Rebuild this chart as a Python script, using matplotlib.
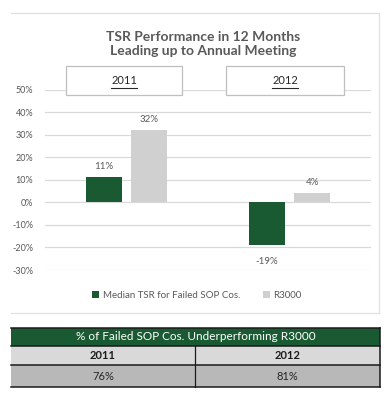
import matplotlib
matplotlib.use("Agg")
import matplotlib.pyplot as plt
from matplotlib.patches import Rectangle
from matplotlib.lines import Line2D
import numpy as np

plt.rcParams['font.family'] = ['Lato', 'DejaVu Sans']

# ---- data ----
years = ['2011', '2012']
series_names = ['Median TSR for Failed SOP Cos.', 'R3000']
median_tsr = [11, -19]
r3000 = [32, 4]
yticks = [-30, -20, -10, 0, 10, 20, 30, 40, 50]
table_title = '% of Failed SOP Cos. Underperforming R3000'
underperf = [76, 81]

GREEN = '#1a5a33'
GRAY_BAR = '#d0d0d0'
TXT = '#595959'

W, H = 389, 401
fig = plt.figure(figsize=(W / 100, H / 100), dpi=100)

def fx(px):
    return px / W

def fy(py):
    return 1 - py / H

# main axes: x 45..371 px, y 89.5 (50%) .. 270 (-30%)
ax = fig.add_axes([fx(45), fy(270), fx(371) - fx(45), fy(89.5) - fy(270)])
ax.set_xlim(-0.5, 1.5)
ax.set_ylim(-30, 50)
x = np.arange(len(years))
off, bw = 0.141, 0.221
b1 = ax.bar(x - off, median_tsr, bw, color=GREEN, zorder=3, label=series_names[0])
b2 = ax.bar(x + off, r3000, bw, color=GRAY_BAR, zorder=3, label=series_names[1])
for bars in (b1, b2):
    for r in bars:
        v = r.get_height()
        cx = r.get_x() + r.get_width() / 2
        if v >= 0:
            ax.annotate(f'{v:.0f}%', (cx, v), xytext=(0, 8), textcoords='offset points',
                        ha='center', va='center', fontsize=7, color=TXT)
        else:
            ax.annotate(f'{v:.0f}%', (cx, v), xytext=(0, -11.5), textcoords='offset points',
                        ha='center', va='center', fontsize=7, color=TXT)
ax.set_yticks(yticks)
ax.set_yticklabels([f'{t}%' for t in yticks])
ax.tick_params(axis='y', length=0, pad=8.5, labelsize=6.5, labelcolor=TXT)
ax.set_xticks([])
for s in ax.spines.values():
    s.set_visible(False)
ax.grid(axis='y', color='#d9d9d9', linewidth=0.9, zorder=0)
ax.set_axisbelow(True)
ax.patch.set_alpha(0)

fig.legend(handles=[b1, b2], labels=series_names, loc='center',
           bbox_to_anchor=(fx(197), fy(295)), ncol=2, frameon=False,
           handlelength=0.7, handleheight=0.7, handletextpad=0.4,
           columnspacing=2.3, fontsize=7, labelcolor=TXT)

# decoration axes in pixel coordinates
d = fig.add_axes([0, 0, 1, 1], zorder=5)
d.set_xlim(0, W)
d.set_ylim(H, 0)
d.axis('off')
d.patch.set_alpha(0)

# chart outer border (top, right, bottom)
d.add_line(Line2D([11, 379, 379, 11], [13, 13, 313, 313], color='#e0e0e0', linewidth=0.9))

# title
d.text(203, 44, 'TSR Performance in 12 Months\nLeading up to Annual Meeting',
       ha='center', va='center', fontsize=10, fontweight='bold', color=TXT,
       linespacing=1.2)

# year boxes
for (x0, x1), yr in zip([(66, 182), (226, 344)], years):
    d.add_patch(Rectangle((x0, 66), x1 - x0, 29, facecolor='white', edgecolor='#bfbfbf',
                          linewidth=0.9))
    cx = (x0 + x1) / 2
    d.text(cx, 80, yr, ha='center', va='center', fontsize=8, color='#262626')
    d.add_line(Line2D([cx - 13, cx + 13], [87.5, 87.5], color='#262626', linewidth=0.8))

# table
tx0, tx1, tmid = 11, 380, 195
rows = [(328, 346, GREEN), (346, 365, '#d9d9d9'), (365, 387, '#b8b8b8')]
for y0, y1, c in rows:
    d.add_patch(Rectangle((tx0, y0), tx1 - tx0, y1 - y0, facecolor=c, edgecolor='none'))
for yy in (328, 346, 365, 387):
    d.add_line(Line2D([tx0, tx1], [yy, yy], color='#1a1a1a', linewidth=1.1))
d.add_line(Line2D([tx1, tx1], [328, 387], color='#1a1a1a', linewidth=1.1))
d.add_line(Line2D([tmid, tmid], [346, 387], color='#1a1a1a', linewidth=0.9))
d.text((tx0 + tx1) / 2, 337, table_title, ha='center', va='center', fontsize=8.5,
       color='white')
centers = [(tx0 + tmid) / 2, (tmid + tx1) / 2]
for cx, yr, v in zip(centers, years, underperf):
    d.text(cx, 355.5, yr, ha='center', va='center', fontsize=8, fontweight='bold',
           color='#1a1a1a')
    d.text(cx, 376, f'{v}%', ha='center', va='center', fontsize=8, color='#262626')

fig.savefig('out.png', dpi=100)
